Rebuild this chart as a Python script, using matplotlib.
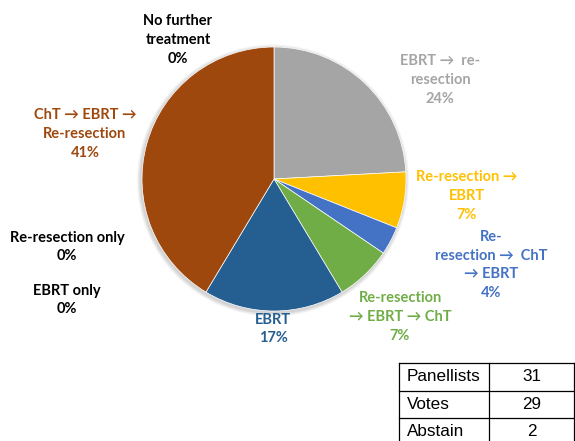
import matplotlib.pyplot as plt
import numpy as np
from matplotlib.patches import Circle

# data, clockwise from 12 o'clock
categories = ["EBRT \u2192  re-\nresection", "Re-resection \u2192\nEBRT",
              "Re-\nresection \u2192  ChT\n\u2192 EBRT", "Re-resection\n\u2192 EBRT \u2192 ChT",
              "EBRT", "ChT \u2192 EBRT \u2192\nRe-resection"]
votes = [7, 2, 1, 2, 5, 12]
pct_labels = ["24%", "7%", "4%", "7%", "17%", "41%"]
colors = ["#A5A5A5", "#FFC000", "#4472C4", "#70AD47", "#255E91", "#9E480E"]

zero_categories = ["No further\ntreatment", "Re-resection only", "EBRT only"]
zero_pct = ["0%", "0%", "0%"]

table_rows = ["Panellists", "Votes", "Abstain"]
table_vals = ["31", "29", "2"]

W, H = 575, 441
fig = plt.figure(figsize=(W / 100, H / 100), dpi=100)
ax = fig.add_axes([0, 0, 1, 1])

# pie, centre / radius in pixels (y measured from top)
cx, cy, r = 274, 179, 132

# soft shadow behind the pie
for k in range(5, 0, -1):
    ax.add_patch(Circle((cx - 1, H - cy - 1.5), r + k * 0.8, color="black",
                        alpha=0.035, lw=0, zorder=0))

ax.pie(votes, colors=colors, startangle=90, counterclock=False,
       center=(cx, H - cy), radius=r, frame=True,
       wedgeprops=dict(linewidth=0.5, edgecolor="white"))
ax.set_xlim(0, W)
ax.set_ylim(0, H)
ax.set_aspect("equal")
ax.axis("off")

fnt = dict(family="Lato", weight="bold", fontsize=10.5, ha="center", va="center",
           linespacing=1.45)

# label positions (pixel coords of text centre)
label_pos = [(440, 80), (467, 196), (491, 265), (400, 317), (273, 329), (85, 134)]
for lab, p, c, pos in zip(categories, pct_labels, colors, label_pos):
    ax.text(pos[0], H - pos[1], lab + "\n" + p, color=c, **fnt)

zero_pos = [(178, 40), (67, 247), (67, 300)]
for lab, p, pos in zip(zero_categories, zero_pct, zero_pos):
    ax.text(pos[0], H - pos[1], lab + "\n" + p, color="black", **fnt)

# table in bottom-right corner
x0, x1, xm = 399, 574, 489
top, rh = 363, 27.5
for i, (name, val) in enumerate(zip(table_rows, table_vals)):
    yt = top + i * rh
    ax.plot([x0, x1], [H - yt, H - yt], color="black", lw=0.9)
    ax.text(x0 + 8, H - (yt + rh / 2), name, family="Liberation Sans",
            fontsize=12.3, ha="left", va="center")
    ax.text((xm + x1) / 2, H - (yt + rh / 2), val, family="Liberation Sans",
            fontsize=12.3, ha="center", va="center")
for xv in (x0, xm, x1):
    ax.plot([xv, xv], [H - top, -2], color="black", lw=0.9)

fig.savefig("out.png", dpi=100)
